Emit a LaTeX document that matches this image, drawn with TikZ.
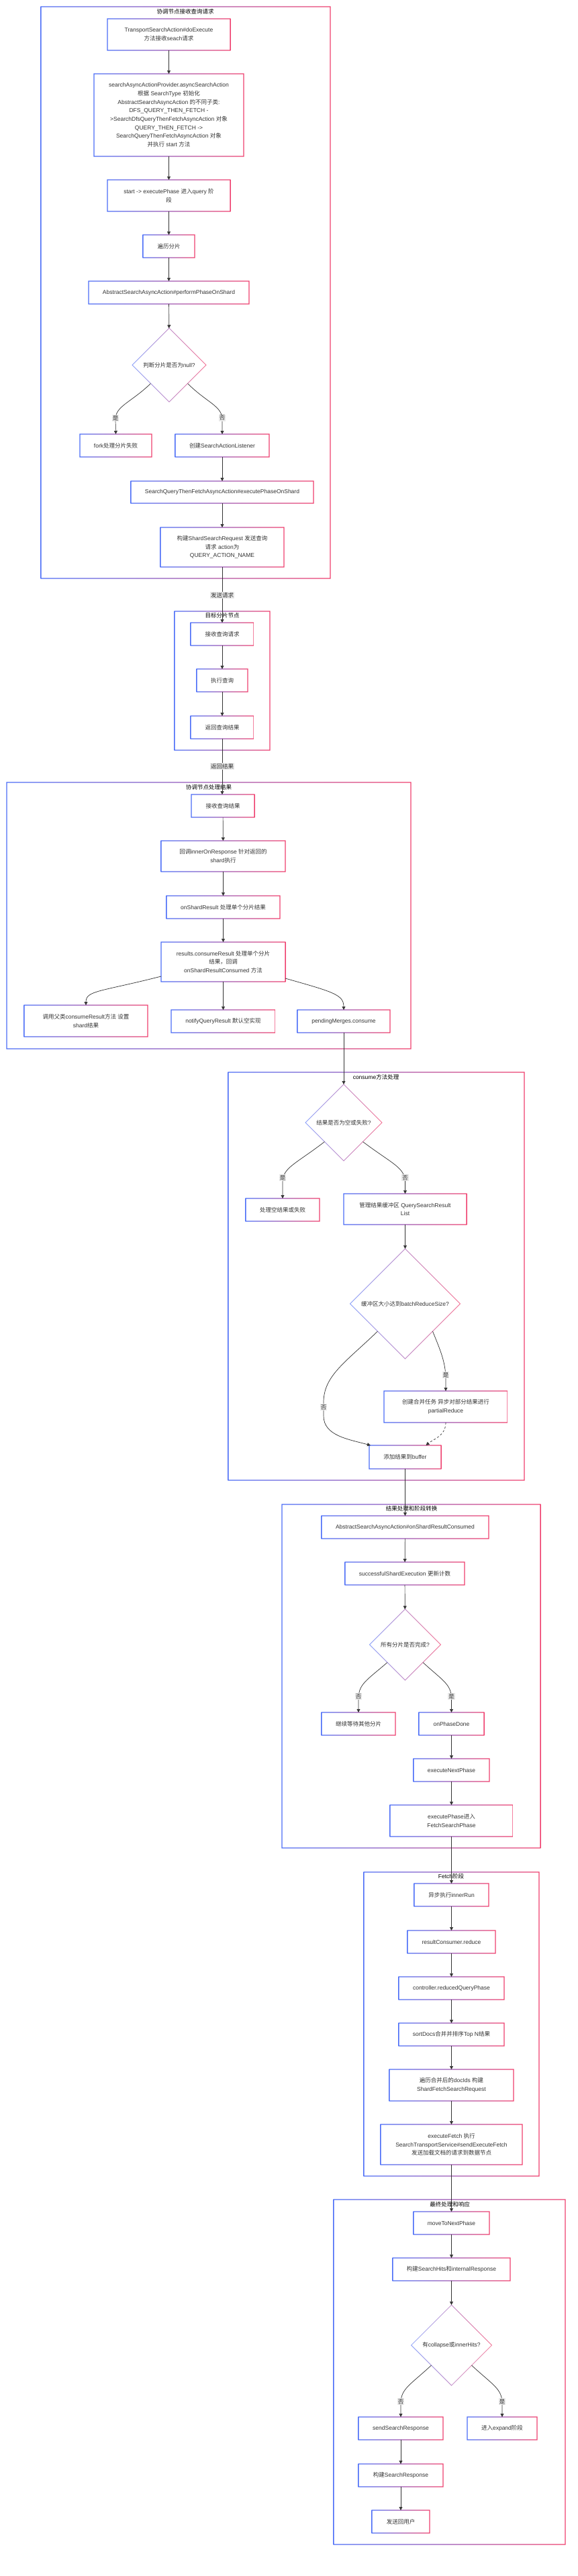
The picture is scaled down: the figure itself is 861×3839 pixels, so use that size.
\documentclass[tikz,border=0pt]{standalone}
\usepackage{fontspec}
\setmainfont{Liberation Sans}
\newfontfamily\cjkf{Noto Sans CJK SC}
\XeTeXinterchartokenstate=1
\newXeTeXintercharclass\cjkclass
\newcount\cjkcc
\cjkcc="3000
\loop\XeTeXcharclass\cjkcc=\cjkclass\advance\cjkcc by 1\ifnum\cjkcc<"A000\repeat
\cjkcc="FF00
\loop\XeTeXcharclass\cjkcc=\cjkclass\advance\cjkcc by 1\ifnum\cjkcc<"FFF0\repeat
\XeTeXinterchartoks 0 \cjkclass={\cjkf}
\XeTeXinterchartoks 4095 \cjkclass={\cjkf}
\XeTeXinterchartoks \cjkclass 0={\rmfamily}
\XeTeXinterchartoks \cjkclass 4095={\rmfamily}
\usetikzlibrary{arrows.meta,shapes.geometric}
\definecolor{gb}{HTML}{4A6CF7}
\definecolor{gp}{HTML}{F0406E}
\definecolor{txt}{HTML}{333333}
\definecolor{lblbg}{HTML}{E8E8E8}
\tikzset{
  box/.style={inner sep=0pt,outer sep=0pt,align=center,text=txt,font=\fontsize{8.5}{12.7}\selectfont},
  dia/.style={shape=diamond,inner sep=0pt,outer sep=0pt,align=center,text=txt,font=\fontsize{8.5}{12.7}\selectfont},
  ctitle/.style={inner sep=0pt,text=black,font=\fontsize{8.5}{12.7}\selectfont},
  elabel/.style={fill=lblbg,inner sep=1pt,text=txt,font=\fontsize{8.5}{10}\selectfont},
  edge/.style={draw=txt,line width=0.7pt,-{Triangle[length=5pt,width=5pt]}},
  dedge/.style={edge,dashed}
}
\newcommand\gring[4]{%
  \shade[left color=gb,right color=gp]
    ({#1-0.55},{#2-0.55}) -- ({#3+0.55},{#2-0.55}) -- ({#3+0.55},{#4+0.55}) -- ({#1-0.55},{#4+0.55}) -- cycle
    ({#1+0.55},{#2+0.55}) -- ({#1+0.55},{#4-0.55}) -- ({#3-0.55},{#4-0.55}) -- ({#3-0.55},{#2+0.55}) -- cycle;}
\newcommand\bx[6]{%
  \gring{#2}{#3}{#4}{#5}
  \node[box,minimum width={(#4-#2)*1pt},minimum height={(#5-#3)*1pt}] (#1) at ({(#2+#4)/2},{(#3+#5)/2}) {#6};}
\newcommand\dm[5]{%
  \shade[left color=gb!65,right color=gp!75]
    ({#2-#4-0.55},#3) -- (#2,{#3-#4-0.55}) -- ({#2+#4+0.55},#3) -- (#2,{#3+#4+0.55}) -- cycle
    ({#2-#4+0.55},#3) -- (#2,{#3+#4-0.55}) -- ({#2+#4-0.55},#3) -- (#2,{#3-#4+0.55}) -- cycle;
  \node[dia,minimum width={2*#4*1pt},minimum height={2*#4*1pt}] (#1) at (#2,#3) {#5};}
\begin{document}
\begin{tikzpicture}[x=1pt,y=-1pt]
\fill[white] (0,0) rectangle (861,3839);
\useasboundingbox (0,0) rectangle (861,3839);
% clusters
\gring{61}{10}{492}{862}
\node[ctitle] (T1) at (276,17) {协调节点接收查询请求};
\gring{260}{911}{402}{1118}
\node[ctitle] (T2) at (331,917) {目标分片节点};
\gring{10}{1166}{612}{1563}
\node[ctitle] (T3) at (311,1173) {协调节点处理结果};
\gring{340}{1598}{781}{2206}
\node[ctitle] (T4) at (560,1605) {consume方法处理};
\gring{420}{2242}{805}{2754}
\node[ctitle] (T5) at (613,2248) {结果处理和阶段转换};
\gring{542}{2790}{803}{3243}
\node[ctitle] (T6) at (672,2796) {Fetch阶段};
\gring{497}{3278}{842}{3792}
\node[ctitle] (T7) at (670,3285) {最终处理和响应};
% cluster 1
\bx{n1}{160}{28}{343}{75}{TransportSearchAction\#doExecute\\方法接收seach请求}
\bx{n2}{140}{110}{363}{233}{searchAsyncActionProvider.asyncSearchAction\\根据 SearchType 初始化\\AbstractSearchAsyncAction 的不同子类:\\DFS\_QUERY\_THEN\_FETCH -\\>SearchDfsQueryThenFetchAsyncAction 对象\\QUERY\_THEN\_FETCH ->\\SearchQueryThenFetchAsyncAction 对象\\并执行 start 方法}
\bx{n3}{160}{268}{343}{315}{start -> executePhase 进入query 阶\\段}
\bx{n4}{213}{350}{290}{384}{遍历分片}
\bx{n5}{132}{419}{371}{453}{AbstractSearchAsyncAction\#performPhaseOnShard}
\dm{d0}{252}{544}{55}{判断分片是否为null?}
\bx{n6}{119}{647}{226}{681}{fork处理分片失败}
\bx{n7}{261}{647}{401}{681}{创建SearchActionListener}
\bx{n8}{195}{717}{467}{750}{SearchQueryThenFetchAsyncAction\#executePhaseOnShard}
\bx{n9}{239}{786}{423}{845}{构建ShardSearchRequest 发送查询\\请求 action为\\QUERY\_ACTION\_NAME}
% cluster 2
\bx{t1}{284}{928}{378}{962}{接收查询请求}
\bx{t2}{293}{997}{369}{1031}{执行查询}
\bx{t3}{284}{1067}{378}{1101}{返回查询结果}
% cluster 3
\bx{c1}{285}{1184}{379}{1218}{接收查询结果}
\bx{c2}{240}{1253}{425}{1299}{回调innerOnResponse 针对返回的\\shard执行}
\bx{c3}{248}{1335}{417}{1369}{onShardResult 处理单个分片结果}
\bx{c4}{240}{1404}{425}{1463}{results.consumeResult 处理单个分片\\结果，回调\\onShardResultConsumed 方法}
\bx{c5}{36}{1498}{220}{1545}{调用父类consumeResult方法 设置\\shard结果}
\bx{c6}{255}{1505}{410}{1539}{notifyQueryResult 默认空实现}
\bx{c7}{443}{1505}{581}{1539}{pendingMerges.consume}
% cluster 4
\dm{d1}{512}{1673}{57}{结果是否为空或失败?}
\bx{e1}{366}{1786}{476}{1820}{处理空结果或失败}
\bx{e2}{512}{1779}{695}{1825}{管理结果缓冲区 QuerySearchResult\\List}
\dm{d2}{603.5}{1943}{82}{缓冲区大小达到batchReduceSize?}
\bx{e3}{572}{2073}{756}{2120}{创建合并任务 异步对部分结果进行\\partialReduce}
\bx{e4}{550}{2154}{657}{2189}{添加结果到buffer}
% cluster 5
\bx{f1}{479}{2259}{728}{2293}{AbstractSearchAsyncAction\#onShardResultConsumed}
\bx{f2}{514}{2328}{692}{2362}{successfulShardExecution 更新计数}
\dm{d3}{603.5}{2451}{53}{所有分片是否完成?}
\bx{f3}{479}{2552}{589}{2586}{继续等待其他分片}
\bx{f4}{624}{2552}{721}{2586}{onPhaseDone}
\bx{f5}{616}{2621}{729}{2655}{executeNextPhase}
\bx{f6}{581}{2690}{764}{2737}{executePhase进入\\FetchSearchPhase}
% cluster 6
\bx{g1}{617}{2807}{728}{2841}{异步执行innerRun}
\bx{g2}{607}{2877}{738}{2911}{resultConsumer.reduce}
\bx{g3}{594}{2946}{751}{2980}{controller.reducedQueryPhase}
\bx{g4}{594}{3015}{751}{3049}{sortDocs合并并排序Top N结果}
\bx{g5}{580}{3084}{765}{3131}{遍历合并后的docIds 构建\\ShardFetchSearchRequest}
\bx{g6}{567}{3166}{778}{3226}{executeFetch 执行\\SearchTransportService\#sendExecuteFetch\\发送加载文档的请求到数据节点}
% cluster 7
\bx{h1}{616}{3296}{729}{3330}{moveToNextPhase}
\bx{h2}{585}{3365}{760}{3399}{构建SearchHits和internalResponse}
\dm{d4}{672.5}{3495}{60}{有collapse或innerHits?}
\bx{h3}{534}{3602}{660}{3636}{sendSearchResponse}
\bx{h4}{696}{3602}{800}{3636}{进入expand阶段}
\bx{h5}{534}{3672}{660}{3706}{构建SearchResponse}
\bx{h6}{554}{3741}{640}{3775}{发送回用户}
% edges cluster 1
\draw[edge] (n1) -- (n2);
\draw[edge] (n2) -- (n3);
\draw[edge] (n3) -- (n4);
\draw[edge] (n4) -- (n5);
\draw[edge] (n5) -- (d0);
\draw[edge] (d0.south west) .. controls (195,600) and (172,605) .. (172,625) -- (n6.north);
\node[elabel] (L1) at (172,623) {是};
\draw[edge] (d0.south east) .. controls (308,600) and (331,605) .. (331,625) -- (n7.north);
\node[elabel] (L2) at (331,623) {否};
\draw[edge] (n7) -- (n8);
\draw[edge] (n8) -- (n9);
\draw[edge] (n9) -- (t1);
\node[elabel] (L3) at (331,887) {发送请求};
\draw[edge] (t1) -- (t2);
\draw[edge] (t2) -- (t3);
\draw[edge] (t3.south) -- (t3.south |- c1.north);
\node[elabel] (L4) at (331,1142) {返回结果};
% edges cluster 3
\draw[edge] (c1) -- (c2);
\draw[edge] (c2) -- (c3);
\draw[edge] (c3) -- (c4);
\draw[edge] ([yshift=8pt]c4.south west) .. controls (150,1478) and (128,1476) .. (c5.north);
\draw[edge] (c4) -- (c6);
\draw[edge] ([yshift=5pt]c4.south east) .. controls (495,1478) and (512,1482) .. (c7.north);
\draw[edge] (c7) -- (d1);
% edges cluster 4
\draw[edge] (d1.south west) .. controls (440,1735) and (421,1740) .. (421,1762) -- (e1.north);
\node[elabel] (L5) at (421,1755) {是};
\draw[edge] (d1.south east) .. controls (585,1735) and (603.5,1740) .. (603.5,1762) -- (e2.north);
\node[elabel] (L6) at (603.5,1755) {否};
\draw[edge] (e2) -- (d2);
\draw[edge] (d2.south east) .. controls (655,2010) and (664,2030) .. (664,2055) -- (e3.north);
\node[elabel] (L7) at (664,2049) {是};
\draw[edge] (d2.south west) .. controls (515,2030) and (482,2050) .. (482,2090) -- (482,2110) .. controls (482,2140) and (520,2145) .. ([xshift=2pt]e4.north west);
\node[elabel] (L8) at (482,2097) {否};
\draw[dedge] (e3.south) .. controls (664,2140) and (645,2145) .. ([xshift=31pt]e4.north);
% edges cluster 5
\draw[edge] (e4) -- (f1);
\draw[edge] (f1) -- (f2);
\draw[edge] (f2) -- (d3);
\draw[edge] (d3.south west) .. controls (545,2505) and (534,2510) .. (534,2532) -- (f3.north);
\node[elabel] (L9) at (534,2528) {否};
\draw[edge] (d3.south east) .. controls (660,2505) and (672.5,2510) .. (672.5,2532) -- (f4.north);
\node[elabel] (L10) at (672.5,2528) {是};
\draw[edge] (f4) -- (f5);
\draw[edge] (f5) -- (f6);
\draw[edge] (f6) -- (g1);
% edges cluster 6
\draw[edge] (g1) -- (g2);
\draw[edge] (g2) -- (g3);
\draw[edge] (g3) -- (g4);
\draw[edge] (g4) -- (g5);
\draw[edge] (g5) -- (g6);
\draw[edge] (g6) -- (h1);
% edges cluster 7
\draw[edge] (h1) -- (h2);
\draw[edge] (h2) -- (d4);
\draw[edge] (d4.south west) .. controls (610,3555) and (597,3560) .. (597,3582) -- (h3.north);
\node[elabel] (L11) at (597,3579) {否};
\draw[edge] (d4.south east) .. controls (735,3555) and (748,3560) .. (748,3582) -- (h4.north);
\node[elabel] (L12) at (748,3579) {是};
\draw[edge] (h3) -- (h5);
\draw[edge] (h5) -- (h6);
\end{tikzpicture}
\end{document}
